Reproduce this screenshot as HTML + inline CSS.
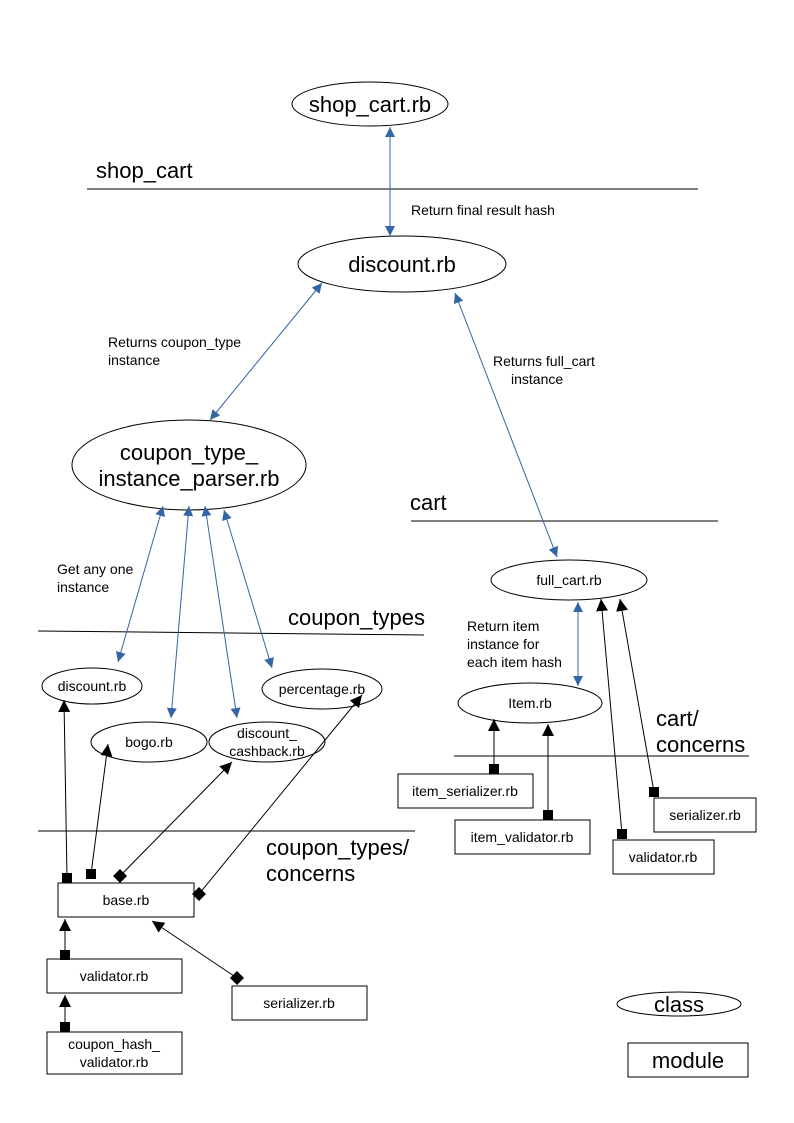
<!DOCTYPE html>
<html><head><style>body{margin:0;background:#fff}svg{display:block}text{font-family:"Liberation Sans",sans-serif;fill:#000}</style></head><body>
<svg width="794" height="1123" xmlns="http://www.w3.org/2000/svg">
<defs>
<marker id="bl" viewBox="0 0 10 10" refX="10" refY="5" markerWidth="10" markerHeight="10" orient="auto-start-reverse" markerUnits="userSpaceOnUse"><path d="M0,0L10,5L0,10z" fill="#3465a4"/></marker>
<marker id="tk" viewBox="0 0 10 10" refX="10" refY="5" markerWidth="12" markerHeight="12" orient="auto" markerUnits="userSpaceOnUse"><path d="M0,0L10,5L0,10z" fill="#000"/></marker>
<marker id="sq" viewBox="0 0 10 10" refX="5" refY="5" markerWidth="10" markerHeight="10" orient="0" markerUnits="userSpaceOnUse"><rect width="10" height="10" fill="#000"/></marker>
<marker id="dm" viewBox="0 0 10 10" refX="5" refY="5" markerWidth="14" markerHeight="14" orient="0" markerUnits="userSpaceOnUse"><path d="M0,5L5,0L10,5L5,10z" fill="#000"/></marker>
</defs>
<g fill="none" stroke="#000" stroke-width="1">
<ellipse cx="370" cy="104" rx="78" ry="22"/>
<ellipse cx="402" cy="264" rx="104" ry="28"/>
<ellipse cx="189" cy="465" rx="117" ry="45"/>
<ellipse cx="569" cy="580" rx="78" ry="20"/>
<ellipse cx="530" cy="703" rx="72" ry="20"/>
<ellipse cx="92" cy="686" rx="50" ry="18"/>
<ellipse cx="322" cy="689" rx="60" ry="20"/>
<ellipse cx="149" cy="742" rx="58" ry="20"/>
<ellipse cx="267" cy="742" rx="58" ry="20"/>
<ellipse cx="679" cy="1004" rx="62" ry="12"/>
<rect x="58" y="883" width="136" height="34"/>
<rect x="47" y="959" width="135" height="34"/>
<rect x="47" y="1032" width="135" height="42"/>
<rect x="232" y="986" width="135" height="34"/>
<rect x="398" y="774" width="135" height="34"/>
<rect x="455" y="820" width="135" height="34"/>
<rect x="613" y="840" width="101" height="34"/>
<rect x="654" y="798" width="102" height="34"/>
<rect x="628" y="1043" width="120" height="34"/>
<line x1="87" y1="189" x2="698" y2="189"/>
<line x1="411" y1="521" x2="718" y2="521"/>
<line x1="38" y1="631" x2="424" y2="635"/>
<line x1="38" y1="831" x2="415" y2="831"/>
<line x1="454" y1="756" x2="749" y2="756"/>
</g>
<g stroke="#3465a4" stroke-width="1" marker-start="url(#bl)" marker-end="url(#bl)">
<line x1="390" y1="127" x2="390" y2="236"/>
<line x1="322" y1="283" x2="210" y2="420"/>
<line x1="455" y1="293" x2="557" y2="557"/>
<line x1="163" y1="506" x2="118" y2="662"/>
<line x1="189" y1="506" x2="171" y2="718"/>
<line x1="205" y1="506" x2="237" y2="718"/>
<line x1="224" y1="510" x2="272" y2="668"/>
<line x1="578" y1="602" x2="578" y2="686"/>
</g>
<g stroke="#000" stroke-width="1" marker-end="url(#tk)">
<line x1="67" y1="878" x2="64" y2="700" marker-start="url(#sq)"/>
<line x1="91" y1="874" x2="108" y2="744" marker-start="url(#sq)"/>
<line x1="120" y1="876" x2="232" y2="762" marker-start="url(#dm)"/>
<line x1="199" y1="894" x2="362" y2="695" marker-start="url(#dm)"/>
<line x1="65" y1="955" x2="65" y2="919" marker-start="url(#sq)"/>
<line x1="65" y1="1027" x2="65" y2="995" marker-start="url(#sq)"/>
<line x1="237" y1="978" x2="152" y2="921" marker-start="url(#dm)"/>
<line x1="494" y1="769" x2="494" y2="719" marker-start="url(#sq)"/>
<line x1="548" y1="815" x2="548" y2="724" marker-start="url(#sq)"/>
<line x1="622" y1="834" x2="601" y2="599" marker-start="url(#sq)"/>
<line x1="654" y1="792" x2="620" y2="599" marker-start="url(#sq)"/>
</g>
<g font-size="22">
<text x="370" y="112" text-anchor="middle">shop_cart.rb</text>
<text x="402" y="272" text-anchor="middle">discount.rb</text>
<text x="189" y="460" text-anchor="middle">coupon_type_</text>
<text x="189" y="486" text-anchor="middle">instance_parser.rb</text>
<text x="96" y="178">shop_cart</text>
<text x="410" y="510">cart</text>
<text x="288" y="625">coupon_types</text>
<text x="266" y="855">coupon_types/</text>
<text x="266" y="881">concerns</text>
<text x="656" y="726">cart/</text>
<text x="656" y="752">concerns</text>
<text x="679" y="1012" text-anchor="middle">class</text>
<text x="688" y="1068" text-anchor="middle">module</text>
</g>
<g font-size="14">
<text x="411" y="215">Return final result hash</text>
<text x="108" y="347">Returns coupon_type</text>
<text x="108" y="365">instance</text>
<text x="493" y="366">Returns full_cart</text>
<text x="511" y="384">instance</text>
<text x="57" y="574">Get any one</text>
<text x="57" y="592">instance</text>
<text x="467" y="631">Return item</text>
<text x="467" y="649">instance for</text>
<text x="467" y="667">each item hash</text>
<text x="569" y="585" text-anchor="middle">full_cart.rb</text>
<text x="530" y="708" text-anchor="middle">Item.rb</text>
<text x="92" y="691" text-anchor="middle">discount.rb</text>
<text x="322" y="694" text-anchor="middle">percentage.rb</text>
<text x="149" y="747" text-anchor="middle">bogo.rb</text>
<text x="267" y="738" text-anchor="middle">discount_</text>
<text x="267" y="756" text-anchor="middle">cashback.rb</text>
<text x="126" y="905" text-anchor="middle">base.rb</text>
<text x="114" y="981" text-anchor="middle">validator.rb</text>
<text x="114" y="1049" text-anchor="middle">coupon_hash_</text>
<text x="114" y="1067" text-anchor="middle">validator.rb</text>
<text x="299" y="1008" text-anchor="middle">serializer.rb</text>
<text x="465" y="796" text-anchor="middle">item_serializer.rb</text>
<text x="522" y="842" text-anchor="middle">item_validator.rb</text>
<text x="663" y="862" text-anchor="middle">validator.rb</text>
<text x="705" y="820" text-anchor="middle">serializer.rb</text>
</g>
</svg>
</body></html>
